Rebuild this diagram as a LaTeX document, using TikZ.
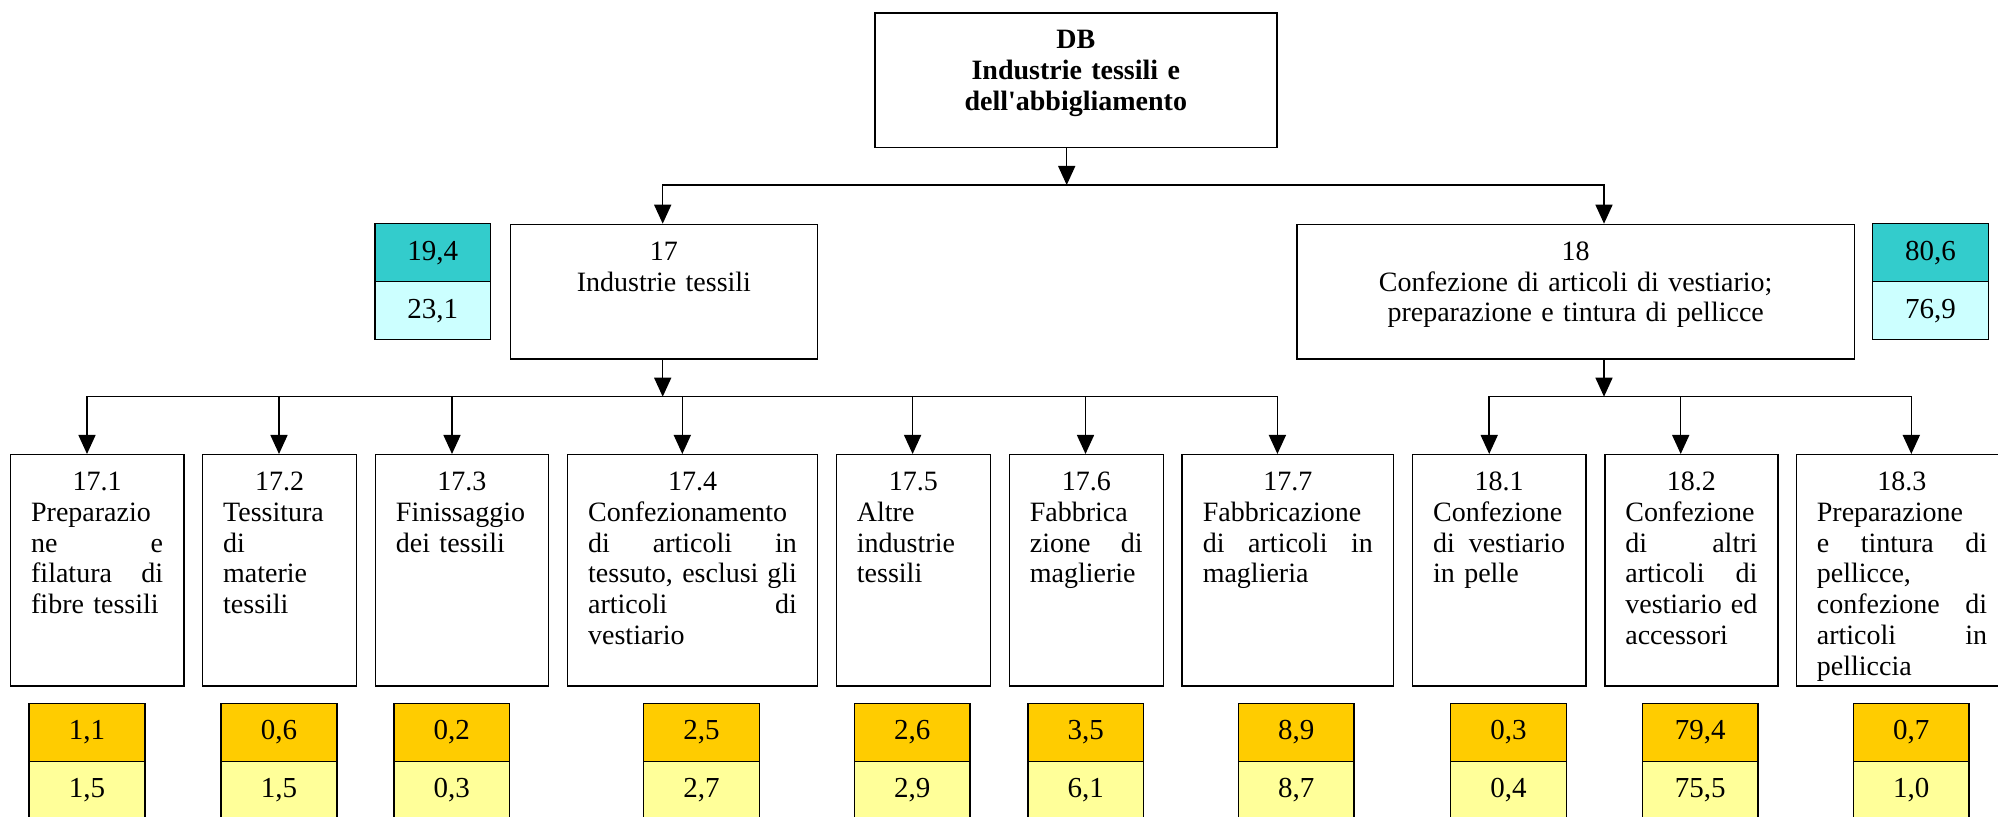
\documentclass[tikz,border=0pt]{standalone}
\usepackage{fontspec}
\setmainfont{Liberation Serif}
\usepackage{tikz}
\usetikzlibrary{positioning,arrows.meta}
\definecolor{sharetop}{RGB}{51,204,204}
\definecolor{sharebot}{RGB}{204,255,255}
\definecolor{subtop}{RGB}{255,204,0}
\definecolor{subbot}{RGB}{255,255,153}
\newcommand{\numline}[1]{\makebox[\linewidth]{#1}}
\newcommand{\jline}[1]{\makebox[\linewidth][s]{\spaceskip=0.25em plus 1fil\relax #1}}
\tikzset{
  line/.style = {-{Triangle[width=6.8pt,length=7.6pt]}, line width=0.6pt},
  box/.style  = {draw, line width=0.6pt, anchor=north west, inner xsep=8.24pt, inner ysep=0pt,
                 font=\fontsize{11.2pt}{12.3pt}\selectfont},
  topbox/.style   = {box, align=center, text height=14.2pt, text depth=39.56pt,
                     font=\fontsize{11.2pt}{12.3pt}\selectfont\bfseries},
  sectbox/.style  = {box, align=center, text height=14.4pt, text depth=39.44pt},
  childbox/.style = {box, align=left, text height=14.4pt, text depth=78pt},
  valbox/.style   = {draw, line width=0.6pt, minimum width=46.3pt, minimum height=23.2pt,
                     inner sep=0pt, outer sep=0pt, font=\fontsize{11.6pt}{12pt}\selectfont},
}
\begin{document}
\begin{tikzpicture}[x=0.4pt, y=-0.4pt]
  \path[use as bounding box, fill=white] (0,0) rectangle (1998,817);
  % division and groups
  \node[topbox, text width=144.32pt] (db) at (874,12.3) {DB\\ Industrie tessili e\\ dell\textquotesingle abbigliamento};
  \node[sectbox, text width=106.36pt] (s17) at (509.6,223.7) {17\\ Industrie tessili};
  \node[sectbox, text width=206.4pt] (s18) at (1296.3,223.7) {18\\ Confezione di articoli di vestiario;\\ preparazione e tintura di pellicce};
  \node[valbox, fill=sharetop, anchor=north] (v17a) at (432.65,223.7) {19,4};
  \node[valbox, fill=sharebot, below=0pt of v17a] (v17b) {23,1};
  \node[valbox, fill=sharetop, anchor=north] (v18a) at (1930.5,223.7) {80,6};
  \node[valbox, fill=sharebot, below=0pt of v18a] (v18b) {76,9};
  % classes
  \node[childbox, text width=52.8pt] (c171) at (9.8,454) {\numline{17.1}\\ Preparazio\\ \jline{ne e}\\ \jline{filatura di}\\ fibre tessili};
  \node[childbox, text width=45.12pt] (c172) at (201.8,454) {\numline{17.2}\\ Tessitura\\ di\\ materie\\ tessili};
  \node[childbox, text width=52.8pt] (c173) at (374.6,454) {\numline{17.3}\\ Finissaggio\\ dei tessili};
  \node[childbox, text width=83.52pt] (c174) at (566.8,454) {\numline{17.4}\\ Confezionamento\\ \jline{di articoli in}\\ \jline{tessuto, esclusi gli}\\ \jline{articoli di}\\ vestiario};
  \node[childbox, text width=45.12pt] (c175) at (835.6,454) {\numline{17.5}\\ Altre\\ industrie\\ tessili};
  \node[childbox, text width=45.12pt] (c176) at (1008.5,454) {\numline{17.6}\\ Fabbrica\\ \jline{zione di}\\ maglierie};
  \node[childbox, text width=68.08pt] (c177) at (1181.4,454) {\numline{17.7}\\ Fabbricazione\\ \jline{di articoli in}\\ maglieria};
  \node[childbox, text width=52.8pt] (c181) at (1411.8,454) {\numline{18.1}\\ Confezione\\ \jline{di vestiario}\\ in pelle};
  \node[childbox, text width=52.8pt] (c182) at (1604,454) {\numline{18.2}\\ Confezione\\ \jline{di altri}\\ \jline{articoli di}\\ \jline{vestiario ed}\\ accessori};
  \node[childbox, text width=68.08pt] (c183) at (1795.5,454) {\numline{18.3}\\ Preparazione\\ \jline{e tintura di}\\ pellicce,\\ \jline{confezione di}\\ \jline{articoli in}\\ pelliccia};
  % shares
  \node[valbox, fill=subtop, anchor=north] (v171a) at (87,703.5) {1,1};
  \node[valbox, fill=subbot, below=0pt of v171a] (v171b) {1,5};
  \node[valbox, fill=subtop, anchor=north] (v172a) at (279,703.5) {0,6};
  \node[valbox, fill=subbot, below=0pt of v172a] (v172b) {1,5};
  \node[valbox, fill=subtop, anchor=north] (v173a) at (451.7,703.5) {0,2};
  \node[valbox, fill=subbot, below=0pt of v173a] (v173b) {0,3};
  \node[valbox, fill=subtop, anchor=north] (v174a) at (701.5,703.5) {2,5};
  \node[valbox, fill=subbot, below=0pt of v174a] (v174b) {2,7};
  \node[valbox, fill=subtop, anchor=north] (v175a) at (912.3,703.5) {2,6};
  \node[valbox, fill=subbot, below=0pt of v175a] (v175b) {2,9};
  \node[valbox, fill=subtop, anchor=north] (v176a) at (1085.75,703.5) {3,5};
  \node[valbox, fill=subbot, below=0pt of v176a] (v176b) {6,1};
  \node[valbox, fill=subtop, anchor=north] (v177a) at (1296.3,703.5) {8,9};
  \node[valbox, fill=subbot, below=0pt of v177a] (v177b) {8,7};
  \node[valbox, fill=subtop, anchor=north] (v181a) at (1508.4,703.5) {0,3};
  \node[valbox, fill=subbot, below=0pt of v181a] (v181b) {0,4};
  \node[valbox, fill=subtop, anchor=north] (v182a) at (1700.25,703.5) {79,4};
  \node[valbox, fill=subbot, below=0pt of v182a] (v182b) {75,5};
  \node[valbox, fill=subtop, anchor=north] (v183a) at (1911.3,703.5) {0,7};
  \node[valbox, fill=subbot, below=0pt of v183a] (v183b) {1,0};
  % junctions
  \coordinate (jdb) at (1066.7,185);
  \coordinate (j17) at (662.7,185);
  \coordinate (j18) at (1604,185);
  \coordinate (k17) at (662.7,396.7);
  \coordinate (k18) at (1604,396.7);
  \coordinate (t171) at (87,396.7);
  \coordinate (t172) at (279,396.7);
  \coordinate (t173) at (452,396.7);
  \coordinate (t174) at (682.3,396.7);
  \coordinate (t175) at (912.6,396.7);
  \coordinate (t176) at (1085.5,396.7);
  \coordinate (t177) at (1277.4,396.7);
  \coordinate (t181) at (1489.2,396.7);
  \coordinate (t182) at (1680.7,396.7);
  \coordinate (t183) at (1911.3,396.7);
  \draw[line] (jdb |- db.south) -- (jdb);
  \draw[line] (jdb) -- (j17) -- (j17 |- s17.north);
  \draw[line] (jdb) -- (j18) -- (j18 |- s18.north);
  \draw[line] (k17 |- s17.south) -- (k17);
  \draw[line] (k18 |- s18.south) -- (k18);
  \draw[line] (k17) -- (t171) -- (t171 |- c171.north);
  \draw[line] (t172) -- (t172 |- c172.north);
  \draw[line] (t173) -- (t173 |- c173.north);
  \draw[line] (t174) -- (t174 |- c174.north);
  \draw[line] (t175) -- (t175 |- c175.north);
  \draw[line] (t176) -- (t176 |- c176.north);
  \draw[line] (k17) -- (t177) -- (t177 |- c177.north);
  \draw[line] (k18) -- (t181) -- (t181 |- c181.north);
  \draw[line] (t182) -- (t182 |- c182.north);
  \draw[line] (k18) -- (t183) -- (t183 |- c183.north);
\end{tikzpicture}
\end{document}
